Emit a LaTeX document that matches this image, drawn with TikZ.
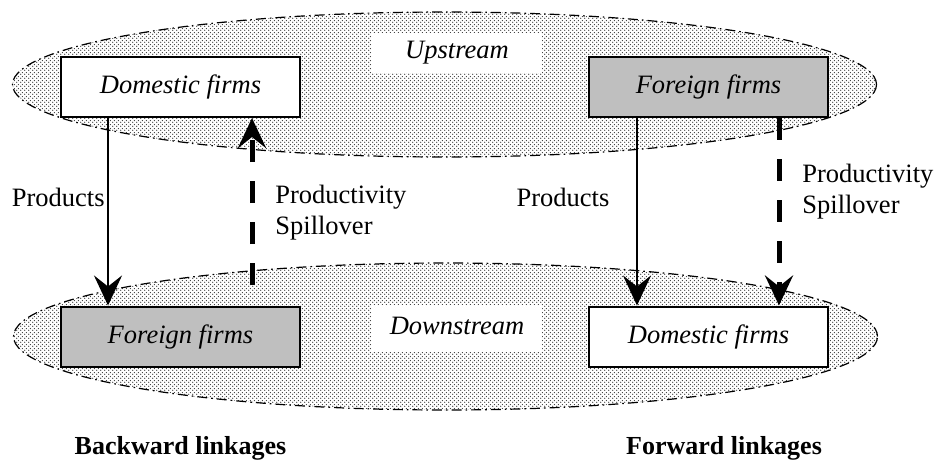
\documentclass[tikz,border=0pt]{standalone}
\usepackage{fontspec}
\setmainfont{Liberation Serif}
\usetikzlibrary{shapes.geometric,arrows.meta,patterns.meta}
\pgfdeclarepattern{name=fdots, bottom left={\pgfpoint{0pt}{0pt}}, top right={\pgfpoint{2pt}{2pt}}, tile size={\pgfpoint{2pt}{2pt}}, code={\pgfpathcircle{\pgfpoint{0.5pt}{0.5pt}}{0.4pt}\pgfpathcircle{\pgfpoint{1.5pt}{1.5pt}}{0.4pt}\pgfusepath{fill}}}
\begin{document}
\begin{tikzpicture}[x=0.5pt,y=-0.5pt,
  zone/.style={ellipse, draw, line width=0.6pt, dash pattern=on 5pt off 2pt on 0.8pt off 2pt, pattern=fdots, pattern color=black!80, minimum width=432pt, minimum height=72.5pt, inner sep=0pt},
  firm/.style={draw, line width=1pt, fill=white, minimum width=119.5pt, minimum height=30pt, inner sep=0pt, font=\fontsize{13.25}{16}\selectfont\itshape},
  zlabel/.style={fill=white, minimum width=85pt, inner sep=0pt, font=\fontsize{13.25}{16}\selectfont\itshape},
  txt/.style={font=\fontsize{13.25}{15.5}\selectfont, align=left, inner sep=0pt},
  heading/.style={font=\fontsize{13}{15}\selectfont\bfseries, inner sep=0pt},
  prod/.style={line width=1.1pt, -{Stealth[length=15pt,width=14pt,inset=5.5pt]}},
  spill/.style={line width=2.5pt, dash pattern=on 11pt off 9.5pt, -{Stealth[length=15pt,width=14pt,inset=5.5pt]}}]
\useasboundingbox (0,0) rectangle (937,462);
\node[zone] (up) at (444.5,84.5) {};
\node[zone, minimum height=73.5pt] (down) at (445.5,336.5) {};
\node[zlabel, minimum height=20pt] (upl) at (457,53) {Upstream};
\node[zlabel, minimum height=23.5pt, text depth=3pt] (downl) at (457,328.5) {Downstream};
\node[firm] (dT) at (180.5,87) {Domestic firms};
\node[firm, fill=gray!50] (fT) at (708.5,87) {Foreign firms};
\node[firm, fill=gray!50] (fB) at (180.5,336.5) {Foreign firms};
\node[firm] (dB) at (708.5,336.5) {Domestic firms};
\coordinate (s1) at (252,285);
\draw[prod] ([xshift=24pt]dT.south west) -- ([xshift=24pt]fB.north west);
\draw[spill] (s1) -- (s1 |- dT.south);
\draw[prod] ([xshift=24.5pt]fT.south west) -- ([xshift=24.5pt]dB.north west);
\draw[spill] ([xshift=95.5pt]fT.south west) -- ([xshift=95.5pt]dB.north west);
\node[txt, anchor=east] (p1) at (105,197) {Products};
\node[txt, anchor=west] (s1l) at (275,212.5) {Productivity\\Spillover};
\node[txt] (p2) at (563,197) {Products};
\node[txt, anchor=west] (s2l) at (802,191.5) {Productivity\\Spillover};
\node[heading] (bl) at (180.5,448) {Backward linkages};
\node[heading] (fl) at (724,448) {Forward linkages};
\end{tikzpicture}
\end{document}
